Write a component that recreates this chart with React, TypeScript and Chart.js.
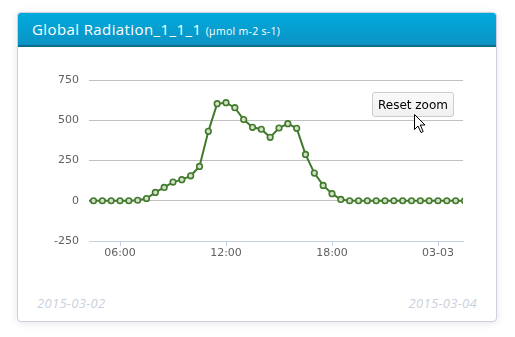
import React, { useEffect, useRef } from "react";
import { Chart, registerables } from "chart.js";

Chart.register(...registerables);

// hours since 2015-03-02 00:00, every 30 minutes
const hours = [
  4, 4.5, 5, 5.5, 6, 6.5, 7, 7.5, 8, 8.5, 9, 9.5, 10, 10.5, 11, 11.5, 12, 12.5,
  13, 13.5, 14, 14.5, 15, 15.5, 16, 16.5, 17, 17.5, 18, 18.5, 19, 19.5, 20, 20.5,
  21, 21.5, 22, 22.5, 23, 23.5, 24, 24.5, 25, 25.5,
];
const radiation = [
  0, 0, 0, 0, 0, 0, 3, 14, 52, 83, 116, 131, 155, 213, 431, 603, 609, 578,
  504, 456, 444, 394, 452, 479, 450, 288, 172, 95, 44, 8, 0, 0, 0, 0,
  0, 0, 0, 0, 0, 0, 0, 0, 0, 0,
];
const xTickValues = [6, 12, 18, 24];
const xTickLabels = ["06:00", "12:00", "18:00", "03-03"];
const yMin = -250;
const yMax = 750;
const yStep = 250;
const xMin = 4.245;
const xMax = 25.415;

const title = "Global Radiation_1_1_1";
const unit = "(\u03bcmol m-2 s-1)";
const startDate = "2015-03-02";
const endDate = "2015-03-04";

export default function App() {
  const ref = useRef<HTMLCanvasElement>(null);

  useEffect(() => {
    if (!ref.current) return;
    const chart = new Chart(ref.current, {
      type: "line",
      data: {
        datasets: [
          {
            data: hours.map((h, i) => ({ x: h, y: radiation[i] })),
            borderColor: "#417a2b",
            borderWidth: 2,
            backgroundColor: "#417a2b",
            pointRadius: 2.8,
            pointBorderWidth: 1.6,
            pointBorderColor: "#417a2b",
            pointBackgroundColor: "#d3dfc8",
            tension: 0,
          },
        ],
      },
      options: {
        animation: false,
        responsive: false,
        layout: { padding: { left: 0, right: 34, top: 20, bottom: 0 } },
        plugins: { legend: { display: false }, tooltip: { enabled: false } },
        scales: {
          x: {
            type: "linear",
            min: xMin,
            max: xMax,
            afterBuildTicks: (axis: any) => {
              axis.ticks = xTickValues.map((v) => ({ value: v }));
            },
            afterFit: (axis: any) => {
              axis.height = 29;
            },
            grid: {
              drawOnChartArea: false,
              drawTicks: true,
              tickLength: 5,
              color: "#c0d0e0",
            },
            border: { display: true, color: "#c0d0e0", width: 1 },
            ticks: {
              autoSkip: false,
              maxRotation: 0,
              padding: 1,
              color: "#606060",
              font: { family: "DejaVu Sans", size: 11 },
              callback: (v: any) => {
                const i = xTickValues.indexOf(Number(v));
                return i >= 0 ? xTickLabels[i] : "";
              },
            },
          },
          y: {
            min: yMin,
            max: yMax,
            afterFit: (axis: any) => {
              axis.width = 72;
            },
            grid: { color: "#c0c0c0", drawTicks: false },
            border: { display: false },
            ticks: {
              stepSize: yStep,
              padding: 10,
              color: "#606060",
              font: { family: "DejaVu Sans", size: 11 },
            },
          },
        },
      },
    });
    return () => chart.destroy();
  }, []);

  return (
    <div
      style={{
        position: "fixed",
        left: 0,
        top: 0,
        width: 515,
        height: 337,
        background: "#ffffff",
        overflow: "hidden",
        fontFamily: "'Open Sans', sans-serif",
      }}
    >
      <div
        style={{
          position: "absolute",
          left: 17,
          top: 12,
          width: 480,
          height: 310,
          boxSizing: "border-box",
          border: "1px solid #cdd1dc",
          borderRadius: 4,
          boxShadow: "0 1px 8px rgba(0,0,0,0.10)",
          background: "#fff",
          overflow: "hidden",
        }}
      >
        <div
          style={{
            position: "absolute",
            left: 0,
            top: 0,
            right: 0,
            height: 34,
            boxSizing: "border-box",
            background: "linear-gradient(#00aadd, #0c93c4)",
            borderBottom: "2px solid #0c6a8c",
            color: "#fff",
          }}
        >
          <div
            style={{
              position: "absolute",
              left: 14,
              top: 6,
              whiteSpace: "nowrap",
              fontSize: 15,
              letterSpacing: 0.4,
            }}
          >
            {title}{" "}
            <span style={{ fontSize: 10.5, letterSpacing: 0.3 }}>{unit}</span>
          </div>
        </div>
        <div
          style={{
            position: "absolute",
            left: 19,
            top: 281,
            fontSize: 13,
            fontStyle: "italic",
            color: "#cbcfdb",
            letterSpacing: 0.3,
          }}
        >
          {startDate}
        </div>
        <div
          style={{
            position: "absolute",
            right: 19,
            top: 281,
            fontSize: 13,
            fontStyle: "italic",
            color: "#cbcfdb",
            letterSpacing: 0.3,
          }}
        >
          {endDate}
        </div>
      </div>
      <canvas
        ref={ref}
        width={480}
        height={210}
        style={{ position: "absolute", left: 17, top: 60, width: 480, height: 210 }}
      />
      <div
        style={{
          position: "absolute",
          left: 372,
          top: 92,
          width: 82,
          height: 25,
          boxSizing: "border-box",
          border: "1px solid #cccccc",
          borderRadius: 3,
          background: "linear-gradient(#fafafa, #f0f0f0)",
          fontFamily: "'DejaVu Sans', sans-serif",
          fontSize: 12,
          color: "#000",
          display: "flex",
          alignItems: "center",
          justifyContent: "center",
        }}
      >
        Reset zoom
      </div>
      <svg
        style={{ position: "absolute", left: 413, top: 113 }}
        width={14}
        height={22}
        viewBox="0 0 14 22"
      >
        <path
          d="M1.5 1.5 L1.5 16.5 L5 13 L8 19.5 L10.2 18.5 L7.3 12 L12 12 Z"
          fill="#ffffff"
          stroke="#000000"
          strokeWidth={1}
          strokeLinejoin="miter"
        />
      </svg>
    </div>
  );
}
